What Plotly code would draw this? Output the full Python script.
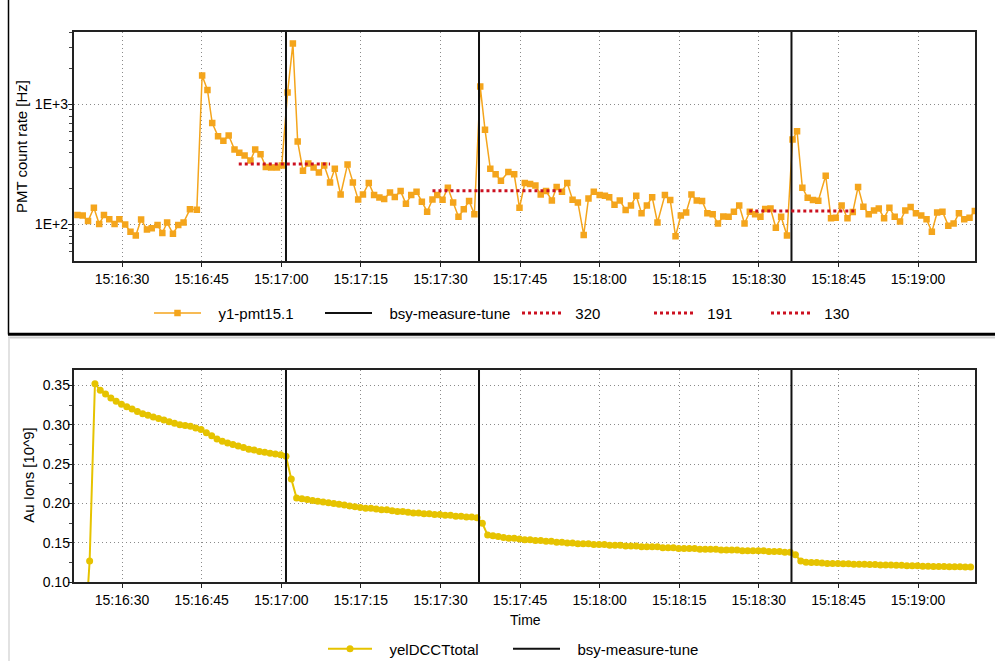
import plotly.graph_objects as go
import pandas as pd

W, H = 995, 666
BASE = pd.Timestamp("2009-01-01 15:16:00")

# ---------------- data (seconds after 15:16:00) ----------------
pmt_t = [21.6, 22.6, 23.6, 24.7, 25.7, 26.6, 27.6, 28.6, 29.5, 30.6,
         31.6, 32.6, 33.6, 34.7, 35.6, 36.7, 37.6, 38.5, 39.6, 40.6,
         41.6, 42.8, 44.1, 45.1, 46.1, 47.0, 48.1, 49.1, 50.1, 51.2,
         52.1, 53.1, 54.2, 55.1, 56.1, 57.1, 58.1, 59.2, 60.1, 61.2,
         62.2, 63.1, 64.1, 65.1, 66.1, 67.1, 68.1, 69.2, 70.1, 71.2,
         72.5, 73.5, 74.5, 75.4, 76.5, 77.5, 78.5, 79.4, 80.5, 81.4,
         82.5, 83.5, 84.5, 85.5, 86.5, 87.5, 88.5, 89.4, 90.4, 91.4,
         92.4, 93.4, 94.4, 95.4, 96.4, 97.5, 98.4, 99.4, 100.4, 101.4,
         102.8, 103.9, 104.9, 105.9, 106.9, 107.9, 108.9, 109.9, 111.0, 111.9,
         112.9, 113.9, 114.9, 115.9, 117.0, 117.9, 118.9, 120.0, 121.0, 121.8,
         122.8, 123.8, 124.9, 125.9, 126.9, 127.9, 128.9, 129.9, 130.9, 132.3,
         133.3,
         134.3, 135.3, 136.3, 137.3, 138.3, 139.3, 140.3, 141.3, 142.3, 143.3,
         144.3, 145.3, 146.3, 147.3, 148.3, 149.3, 150.3, 151.2, 152.2, 153.2,
         154.2, 155.3, 156.35, 157.2, 158.2, 159.2, 160.2, 161.2, 162.6, 163.6,
         164.5, 165.6, 166.7, 167.7, 168.7, 169.7, 170.7, 171.7, 172.6, 173.6,
         174.6, 175.6, 176.6, 177.6, 178.6, 179.6, 180.6, 181.6, 182.6, 183.6,
         184.6, 185.7, 186.7, 187.7, 188.7, 189.7, 190.7]
pmt_v = [120, 119, 107, 138, 101, 120, 111, 101, 111, 100,
         87, 81, 110, 91, 93, 99, 85, 104, 84, 99,
         104, 134, 133, 1746, 1320, 700, 543, 500, 551, 422,
         396, 376, 342, 422, 386, 301, 298, 298, 311, 1256,
         3215, 491, 281, 323, 298, 272, 311, 224, 292, 178,
         317, 224, 162, 178, 222, 176, 168, 163, 185, 170,
         190, 149, 176, 188, 155, 128, 162, 176, 161, 203,
         153, 116, 134, 157, 122, 1409, 617, 292, 262, 232,
         274, 262, 138, 222, 218, 212, 178, 190, 159, 206,
         188, 222, 161, 153, 82, 165, 188, 176, 174, 169,
         146, 159, 132, 144, 174, 124, 144, 169, 104, 176,
         160,
         80, 119, 126, 178, 159, 157, 124, 122, 102, 117,
         116, 128, 144, 102, 128, 122, 116, 135, 136, 94,
         116, 81, 510, 598, 203, 167, 160, 158, 255, 113,
         114, 144, 113, 127, 206, 141, 122, 131, 136, 113,
         138, 116, 106, 131, 140, 124, 119, 111, 87, 126,
         128, 98, 102, 124, 111, 114, 130]

# DCCT logging clock (s after 15:16:00) and values [10^9]
dcct_start = 22.9
dcct_step = 1.0
dcct_v = [0.02, 0.127, 0.352, 0.344, 0.339, 0.334, 0.330, 0.326, 0.323, 0.320,
          0.317, 0.314, 0.312, 0.310, 0.308, 0.306, 0.304, 0.302, 0.300, 0.299,
          0.298, 0.296, 0.294,
          0.290, 0.286, 0.282, 0.279, 0.277, 0.275, 0.273, 0.271, 0.269, 0.268,
          0.266, 0.265, 0.264, 0.263, 0.262, 0.260,
          0.231, 0.207, 0.206, 0.205, 0.204, 0.203, 0.202, 0.201, 0.200, 0.199,
          0.198, 0.197, 0.196, 0.195, 0.194, 0.194, 0.193, 0.192, 0.192, 0.191,
          0.190, 0.190, 0.189, 0.188, 0.188, 0.187, 0.187, 0.186, 0.186, 0.185,
          0.185, 0.184, 0.184, 0.183, 0.183, 0.182,
          0.175, 0.160, 0.159, 0.158, 0.157, 0.156, 0.156, 0.155, 0.154, 0.154,
          0.153, 0.153, 0.152, 0.152, 0.151, 0.151, 0.150, 0.150, 0.149, 0.149,
          0.149, 0.148, 0.148, 0.148, 0.147, 0.147, 0.147, 0.146, 0.146, 0.146,
          0.145, 0.145, 0.145, 0.145, 0.144, 0.144, 0.144, 0.143, 0.143, 0.143,
          0.143, 0.142, 0.142, 0.142, 0.142, 0.141, 0.141, 0.141, 0.141, 0.140,
          0.140, 0.140, 0.140, 0.140, 0.139, 0.139, 0.139, 0.138, 0.138,
          0.135, 0.127, 0.1255, 0.125, 0.125, 0.1245, 0.124, 0.124, 0.124, 0.1235,
          0.1235, 0.123, 0.123, 0.123, 0.1225, 0.1225, 0.122, 0.122, 0.122, 0.1215,
          0.1215, 0.121, 0.121, 0.121, 0.1205, 0.1205, 0.120, 0.120, 0.120, 0.1198,
          0.1197, 0.1196, 0.1195, 0.1194]

tune_t = [60.9, 97.27, 156.15]          # bsy-measure-tune events
level_names = ["320", "191", "130"]
level_vals = [320, 191, 130]
level_start = [52.0, 88.5, 148.2]
level_end = [69.2, 112.9, 168.0]

x_range = [20.86, 190.73]
x_tick0 = 30.0
top_log_range = [1.694, 3.603]
top_tickvals = [100, 1000]
top_ticktext = ["1E+2", "1E+3"]
top_minor = [60, 70, 80, 90, 200, 300, 400, 500, 600, 700, 800, 900, 2000, 3000, 4000]
bot_range = [0.10, 0.3702]

# ---------------- helpers ----------------
def ts(secs):
    out = []
    for s in secs:
        if s is None:
            out.append(None)
        else:
            out.append((BASE + pd.Timedelta(seconds=s)).strftime("%Y-%m-%d %H:%M:%S.%f"))
    return out

def px_x(p):
    return p / W

def px_y(p):
    return 1 - p / H

FONT = "Liberation Sans, Arial, sans-serif"
ORANGE = "#f4a51c"
YELLOW = "#e6c300"
RED = "#cc1020"
NB = "\u00a0"

dcct_t = [dcct_start + i * dcct_step for i in range(len(dcct_v))]

fig = go.Figure()

# top panel
fig.add_trace(go.Scatter(
    x=ts(pmt_t), y=pmt_v, mode="lines+markers", name=NB * 3 + "y1-pmt15.1",
    line=dict(color=ORANGE, width=1.5),
    marker=dict(symbol="square", size=6.5, color=ORANGE),
    xaxis="x", yaxis="y", legend="legend"))

vx, vy = [], []
for t in tune_t:
    vx += [t, t, None]
    vy += [1, 1e5, None]
fig.add_trace(go.Scatter(
    x=ts(vx), y=vy, mode="lines", name=NB * 3 + "bsy-measure-tune",
    line=dict(color="#111111", width=2), xaxis="x", yaxis="y", legend="legend2"))

for i, (nm, v, a, b) in enumerate(zip(level_names, level_vals, level_start, level_end)):
    fig.add_trace(go.Scatter(
        x=ts([a, b]), y=[v, v], mode="lines", name=NB * 2 + nm,
        line=dict(color=RED, width=3, dash="dot"),
        xaxis="x", yaxis="y", legend="legend%d" % (i + 3)))

# bottom panel
fig.add_trace(go.Scatter(
    x=ts(dcct_t), y=dcct_v, mode="lines+markers", name=NB * 3 + "yelDCCTtotal",
    line=dict(color=YELLOW, width=2),
    marker=dict(symbol="circle", size=7, color=YELLOW),
    xaxis="x2", yaxis="y2", legend="legend6"))

vy2 = []
for t in tune_t:
    vy2 += [0.0, 1.0, None]
fig.add_trace(go.Scatter(
    x=ts(vx), y=vy2, mode="lines", name=NB * 3 + "bsy-measure-tune",
    line=dict(color="#111111", width=2), xaxis="x2", yaxis="y2", legend="legend7"))

xdom = [73.5 / W, 975 / W]
common_x = dict(
    type="date", range=ts(x_range), tickformat="%H:%M:%S", dtick=15000,
    tick0=ts([x_tick0])[0], ticks="outside", ticklen=4, tickcolor="#222",
    showgrid=True, gridcolor="#8a8a8a", griddash="1px,3px", gridwidth=1,
    showline=True, mirror=True, linecolor="#222", linewidth=1.5,
    tickfont=dict(size=14, color="black", family=FONT), zeroline=False,
    domain=xdom, automargin=False)

leg_common = dict(orientation="h", xanchor="left", yanchor="middle",
                  bgcolor="rgba(0,0,0,0)", borderwidth=0,
                  font=dict(size=15, color="black", family=FONT))

def leg(sx, sy, w):
    d = dict(leg_common)
    d.update(x=px_x(sx - 5), y=px_y(sy), itemwidth=w)
    return d

fig.update_layout(
    width=W, height=H, autosize=False,
    margin=dict(l=0, r=0, t=0, b=0),
    paper_bgcolor="white", plot_bgcolor="white",
    font=dict(family=FONT, size=14, color="black"),
    showlegend=True,
    xaxis=dict(common_x, anchor="y"),
    xaxis2=dict(common_x, anchor="y2"),
    yaxis=dict(
        type="log", range=top_log_range, domain=[px_y(263.3), px_y(32.3)],
        tickmode="array", tickvals=top_tickvals, ticktext=top_ticktext,
        ticks="outside", ticklen=4, tickcolor="#222", ticklabelstandoff=-3,
        minor=dict(tickmode="array", tickvals=top_minor, ticks="outside",
                   ticklen=3, tickcolor="#444", showgrid=False),
        showgrid=True, gridcolor="#8a8a8a", griddash="1px,3px", gridwidth=1,
        showline=True, mirror=True, linecolor="#222", linewidth=1.5,
        tickfont=dict(size=14, color="black", family=FONT), zeroline=False,
        anchor="x", automargin=False),
    yaxis2=dict(
        range=bot_range, domain=[px_y(586.7), px_y(372.3)],
        dtick=0.05, tick0=0.10, tickformat=".2f",
        ticks="outside", ticklen=4, tickcolor="#222", ticklabelstandoff=-5,
        minor=dict(dtick=0.025, tick0=0.10, ticks="outside", ticklen=3,
                   tickcolor="#444", showgrid=False),
        showgrid=True, gridcolor="#8a8a8a", griddash="1px,3px", gridwidth=1,
        showline=True, mirror=True, linecolor="#222", linewidth=1.5,
        tickfont=dict(size=14, color="black", family=FONT), zeroline=False,
        anchor="x2", automargin=False),
    legend=leg(154, 315.5, 47),
    legend2=leg(325, 315.5, 47),
    legend3=leg(522, 315.5, 40),
    legend4=leg(654, 315.5, 40),
    legend5=leg(771, 315.5, 40),
    legend6=leg(328, 654, 44),
    legend7=leg(513, 654, 47),
    annotations=[
        dict(text="PMT count rate [Hz]", x=px_x(21.5), y=px_y(147.7), xref="paper",
             yref="paper", showarrow=False, textangle=-90, xanchor="center",
             yanchor="middle", font=dict(size=15, color="black", family=FONT)),
        dict(text="Au Ions [10^9]", x=px_x(28.3), y=px_y(479), xref="paper",
             yref="paper", showarrow=False, textangle=-90, xanchor="center",
             yanchor="middle", font=dict(size=15, color="black", family=FONT)),
        dict(text="Time", x=px_x(525), y=px_y(625), xref="paper", yref="paper",
             showarrow=False, xanchor="center", yanchor="middle",
             font=dict(size=14, color="black", family=FONT)),
    ],
    shapes=[
        dict(type="line", xref="paper", yref="paper", x0=px_x(8.5), x1=px_x(8.5),
             y0=px_y(337), y1=1, line=dict(color="black", width=1.5)),
        dict(type="line", xref="paper", yref="paper", x0=px_x(8), x1=1,
             y0=px_y(336.8), y1=px_y(336.8), line=dict(color="black", width=3)),
        dict(type="line", xref="paper", yref="paper", x0=px_x(8), x1=1,
             y0=px_y(340), y1=px_y(340), line=dict(color="#cfcfcf", width=2)),
        dict(type="line", xref="paper", yref="paper", x0=px_x(9), x1=px_x(9),
             y0=0, y1=px_y(340), line=dict(color="#e2e2e2", width=2)),
    ],
)

fig.write_html("out.html")
